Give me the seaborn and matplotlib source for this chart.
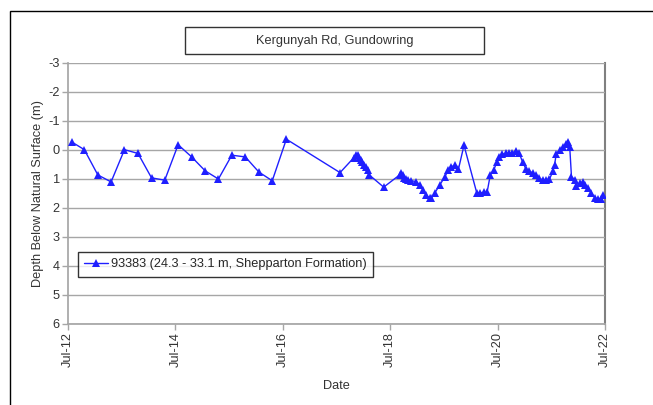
import matplotlib
matplotlib.use("Agg")
import matplotlib.pyplot as plt
import matplotlib.dates as mdates
from matplotlib.patches import Rectangle
import seaborn as sns
import pandas as pd

sns.set_theme(style="white")
plt.rcParams['font.family'] = ['Liberation Sans', 'DejaVu Sans']

title = "Kergunyah Rd, Gundowring"
series_label = "93383 (24.3 - 33.1 m, Shepparton Formation)"

dates = [
    "2012-07-25", "2012-10-20", "2013-01-20", "2013-04-20", "2013-07-20", "2013-10-20",
    "2014-01-20", "2014-04-20", "2014-07-20", "2014-10-20", "2015-01-20", "2015-04-20",
    "2015-07-20", "2015-10-20", "2016-01-20", "2016-04-20", "2016-07-25", "2017-07-25",
    "2017-10-28", "2017-11-10", "2017-11-25", "2017-12-01", "2017-12-13", "2017-12-24",
    "2018-01-04", "2018-01-16", "2018-01-28", "2018-02-09", "2018-05-18", "2018-09-03",
    "2018-09-14", "2018-09-25", "2018-10-06", "2018-10-18", "2018-10-30", "2018-11-22",
    "2018-12-27", "2019-01-18", "2019-02-10", "2019-03-04", "2019-03-27", "2019-04-07",
    "2019-04-30", "2019-06-03", "2019-07-08", "2019-08-01", "2019-08-22", "2019-09-15",
    "2019-10-08", "2019-11-15", "2020-02-10", "2020-03-04", "2020-03-27", "2020-04-20",
    "2020-05-12", "2020-06-04", "2020-06-27", "2020-07-09", "2020-08-01", "2020-08-24",
    "2020-09-16", "2020-10-09", "2020-11-01", "2020-11-24", "2020-12-17", "2021-01-08",
    "2021-01-31", "2021-02-23", "2021-03-18", "2021-04-10", "2021-05-03", "2021-05-26",
    "2021-06-18", "2021-07-11", "2021-07-23", "2021-08-03", "2021-08-26", "2021-09-18",
    "2021-10-11", "2021-10-23", "2021-11-03", "2021-11-15", "2021-12-08", "2021-12-19",
    "2022-01-11", "2022-02-03", "2022-02-15", "2022-03-08", "2022-03-31", "2022-04-23",
    "2022-05-16", "2022-06-05", "2022-06-20",
]
depths = [
    -0.27, 0.00, 0.87, 1.11, 0.00, 0.13,
    0.97, 1.05, -0.17, 0.25, 0.73, 1.01,
    0.19, 0.25, 0.77, 1.07, -0.36, 0.79,
    0.27, 0.19, 0.19, 0.27, 0.34, 0.42,
    0.53, 0.59, 0.70, 0.87, 1.29, 0.87,
    0.81, 0.87, 0.96, 1.00, 1.05, 1.07,
    1.10, 1.22, 1.39, 1.56, 1.68, 1.68,
    1.49, 1.22, 0.93, 0.70, 0.59, 0.53,
    0.68, -0.15, 1.49, 1.49, 1.47, 1.47,
    0.87, 0.70, 0.42, 0.25, 0.16, 0.13,
    0.13, 0.11, 0.04, 0.11, 0.42, 0.65,
    0.73, 0.80, 0.87, 0.99, 1.04, 1.04,
    1.02, 0.75, 0.53, 0.15, 0.02, -0.10,
    -0.21, -0.27, -0.10, 0.93, 1.04, 1.25,
    1.16, 1.10, 1.21, 1.32, 1.49, 1.66,
    1.70, 1.70, 1.55,
]
y_ticks = [-3, -2, -1, 0, 1, 2, 3, 4, 5, 6]
x_tick_dates = ["2012-07-01", "2014-07-01", "2016-07-01", "2018-07-01", "2020-07-01", "2022-07-01"]

df = pd.DataFrame({"Date": pd.to_datetime(dates), "Depth": depths})

FS = 9.2
fig = plt.figure(figsize=(6.53, 4.05), dpi=100)
ax = fig.add_axes([68 / 653, 1 - 324 / 405, (605 - 68) / 653, (324 - 62.5) / 405])

sns.lineplot(data=df, x="Date", y="Depth", ax=ax, color="#1f1fff", linewidth=1.0,
             marker="^", markersize=6, markeredgewidth=0, label=series_label)

ax.set_xlim(pd.Timestamp(x_tick_dates[0]), pd.Timestamp(x_tick_dates[-1]))
ax.set_ylim(6, -3)
ax.set_yticks(y_ticks)
ax.set_yticklabels([str(v) for v in y_ticks])
ax.set_xticks(pd.to_datetime(x_tick_dates))
ax.xaxis.set_major_formatter(mdates.DateFormatter("%b-%y"))
plt.setp(ax.get_xticklabels(), rotation=90)

ax.grid(axis="y", color="#a6a6a6", linewidth=1.0)
ax.grid(axis="x", visible=False)
ax.spines["top"].set_visible(False)
ax.spines["left"].set_color("#a6a6a6")
ax.spines["bottom"].set_color("#a6a6a6")
ax.spines["right"].set_color("#808080")
ax.spines["right"].set_linewidth(1.5)
for s in ["left", "bottom", "right"]:
    ax.spines[s].set_zorder(0.5)
ax.tick_params(axis="both", which="major", direction="out", length=4, width=1,
               color="#a6a6a6", labelsize=FS, labelcolor="#333333", pad=2,
               left=True, bottom=True)

ax.set_xlabel("Date", fontsize=FS, color="#333333", labelpad=9)
ax.set_ylabel("Depth Below Natural Surface (m)", fontsize=FS, color="#333333", labelpad=3)

leg = ax.legend(loc="upper left", bbox_to_anchor=(0.018, 0.276), frameon=True,
                fancybox=False, fontsize=FS, handlelength=1.9, handletextpad=0.2,
                borderpad=0.5, borderaxespad=0)
leg.get_frame().set_edgecolor("black")
leg.get_frame().set_linewidth(1.0)

fig.text(335 / 653, 1 - 41 / 405, title, ha="center", va="center", fontsize=FS,
         color="#333333")
fig.patches.append(Rectangle((185 / 653, 1 - 54 / 405), (484 - 185) / 653, 27 / 405,
                             transform=fig.transFigure, facecolor="none",
                             edgecolor="#333333", linewidth=1.0, zorder=0))

fig.patches.append(Rectangle((10 / 653, -0.1), 1.2, 1 - 11 / 405 + 0.1,
                             transform=fig.transFigure, facecolor="none",
                             edgecolor="black", linewidth=1.0))

fig.savefig("out.png", dpi=100)
